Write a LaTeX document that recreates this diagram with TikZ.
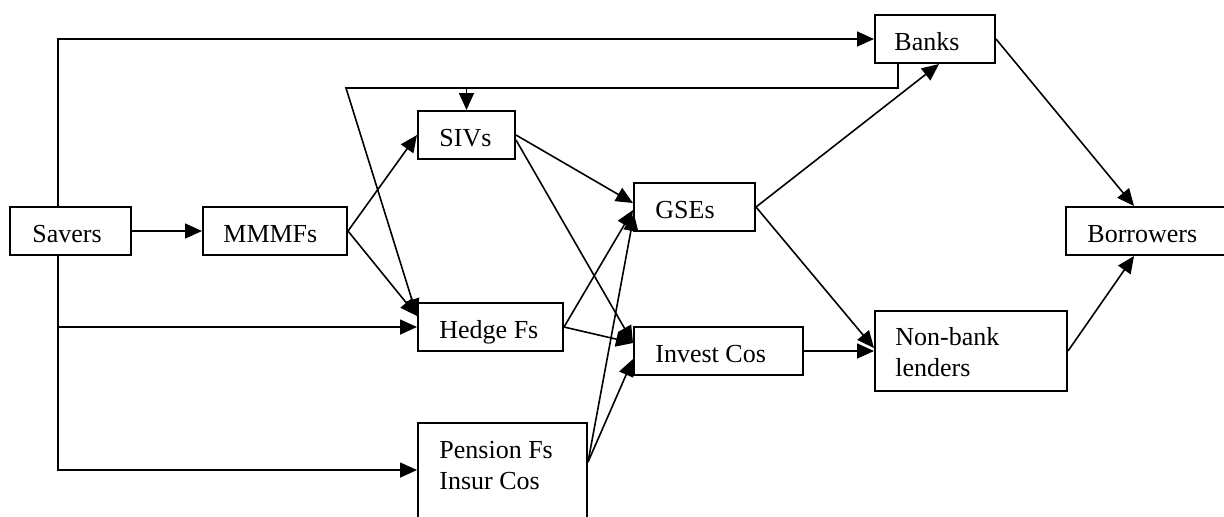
\documentclass[tikz,border=0pt]{standalone}
\usepackage{fontspec}
\setmainfont{Liberation Serif}
\usetikzlibrary{arrows.meta,calc}
\begin{document}
\begin{tikzpicture}[x=0.5pt,y=-0.5pt,
  box/.style={draw, line width=1pt, inner sep=0pt, rectangle},
  lbl/.style={anchor=base west, inner sep=0pt, font=\fontsize{13}{15.5}\selectfont},
  arr/.style={line width=0.8pt, -{Triangle[length=8.5pt,width=7.5pt]}},
  conn/.style={line width=0.8pt}]
\useasboundingbox (0,0) rectangle (1224,516);
\fill[white] (0,0) rectangle (1224,516);
\clip (0,0) rectangle (1224,516);
% boxes
\node[box, minimum width=60.5pt, minimum height=24pt] (savers) at (70.5,231) {};
\node[box, minimum width=72pt, minimum height=24pt] (mmmfs) at (275,231) {};
\node[box, minimum width=48.5pt, minimum height=24pt] (sivs) at (466.5,135) {};
\node[box, minimum width=60pt, minimum height=24pt] (banks) at (935,39) {};
\node[box, minimum width=60.5pt, minimum height=24pt] (gses) at (694.5,207) {};
\node[box, minimum width=82pt, minimum height=24pt] (borrowers) at (1148,231) {};
\node[box, minimum width=72.5pt, minimum height=24pt] (hedge) at (490.5,327) {};
\node[box, minimum width=84.5pt, minimum height=24pt] (invest) at (718.5,351) {};
\node[box, minimum width=96pt, minimum height=40pt] (nonbank) at (971,351) {};
\node[box, minimum width=84.5pt, minimum height=53.5pt] (pension) at (502.5,476.5) {};
% labels
\node[lbl] (saversT) at (32,242) {Savers};
\node[lbl] (mmmfsT) at (223,242) {MMMFs};
\node[lbl] (sivsT) at (439,146) {SIVs};
\node[lbl] (banksT) at (894,50) {Banks};
\node[lbl] (gsesT) at (655,218) {GSEs};
\node[lbl] (borrowersT) at (1087,242) {Borrowers};
\node[lbl] (hedgeT) at (439,338) {Hedge Fs};
\node[lbl] (investT) at (655,362) {Invest Cos};
\node[lbl] (nonbankTa) at (895,345) {Non-bank};
\node[lbl] (nonbankTb) at (895,376) {lenders};
\node[lbl] (pensionTa) at (439,458) {Pension Fs};
\node[lbl] (pensionTb) at (439,489) {Insur Cos};
% coordinates
\coordinate (sTop) at ($(savers.north west)+(49,0)$);
\coordinate (sBot) at ($(savers.south west)+(49,0)$);
\coordinate (hIn) at ($(hedge.north west)+(0,14)$);
\coordinate (bOut) at ($(banks.south west)+(24,0)$);
\coordinate (bDown) at ($(banks.south west)+(24,24)$);
\coordinate (bLeft) at ($(bDown)+(-552,0)$);
\coordinate (bSiv) at (sivs.north |- bLeft);
\coordinate (pOut) at ($(pension.north east)+(0,40)$);
% connectors
\draw[arr] (sTop) |- (banks.west);
\draw[arr] (sBot) |- (hedge.west);
\draw[arr] (sBot) |- ($(pension.north west)+(0,48)$);
\draw[arr] (savers.east) -- (mmmfs.west);
\draw[arr] (mmmfs.east) -- (sivs.west);
\draw[arr] (mmmfs.east) -- (hIn);
\draw[arr] (bOut) -- (bDown) -- (bLeft) -- (hIn);
\draw[arr] (bSiv) -- (sivs.north);
\draw[arr] (sivs.east) -- ($(gses.west)+(0,-4)$);
\draw[arr] ($(sivs.east)+(0,5)$) -- ($(invest.west)+(0,-8)$);
\draw[arr] (hedge.east) -- ($(gses.west)+(0,3)$);
\draw[arr] (hedge.east) -- ($(invest.west)+(0,-8)$);
\draw[arr] (pOut) -- ($(gses.west)+(1,7)$);
\draw[arr] (pOut) -- ($(invest.west)+(0,8)$);
\draw[arr] (gses.east) -- ($(banks.south west)+(65,0)$);
\draw[arr] (gses.east) -- ($(nonbank.west)+(0,-3)$);
\draw[arr] (banks.east) -- ($(borrowers.north west)+(69,0)$);
\draw[arr] (invest.east) -- (nonbank.west);
\draw[arr] (nonbank.east) -- ($(borrowers.south west)+(69,0)$);
\end{tikzpicture}
\end{document}
